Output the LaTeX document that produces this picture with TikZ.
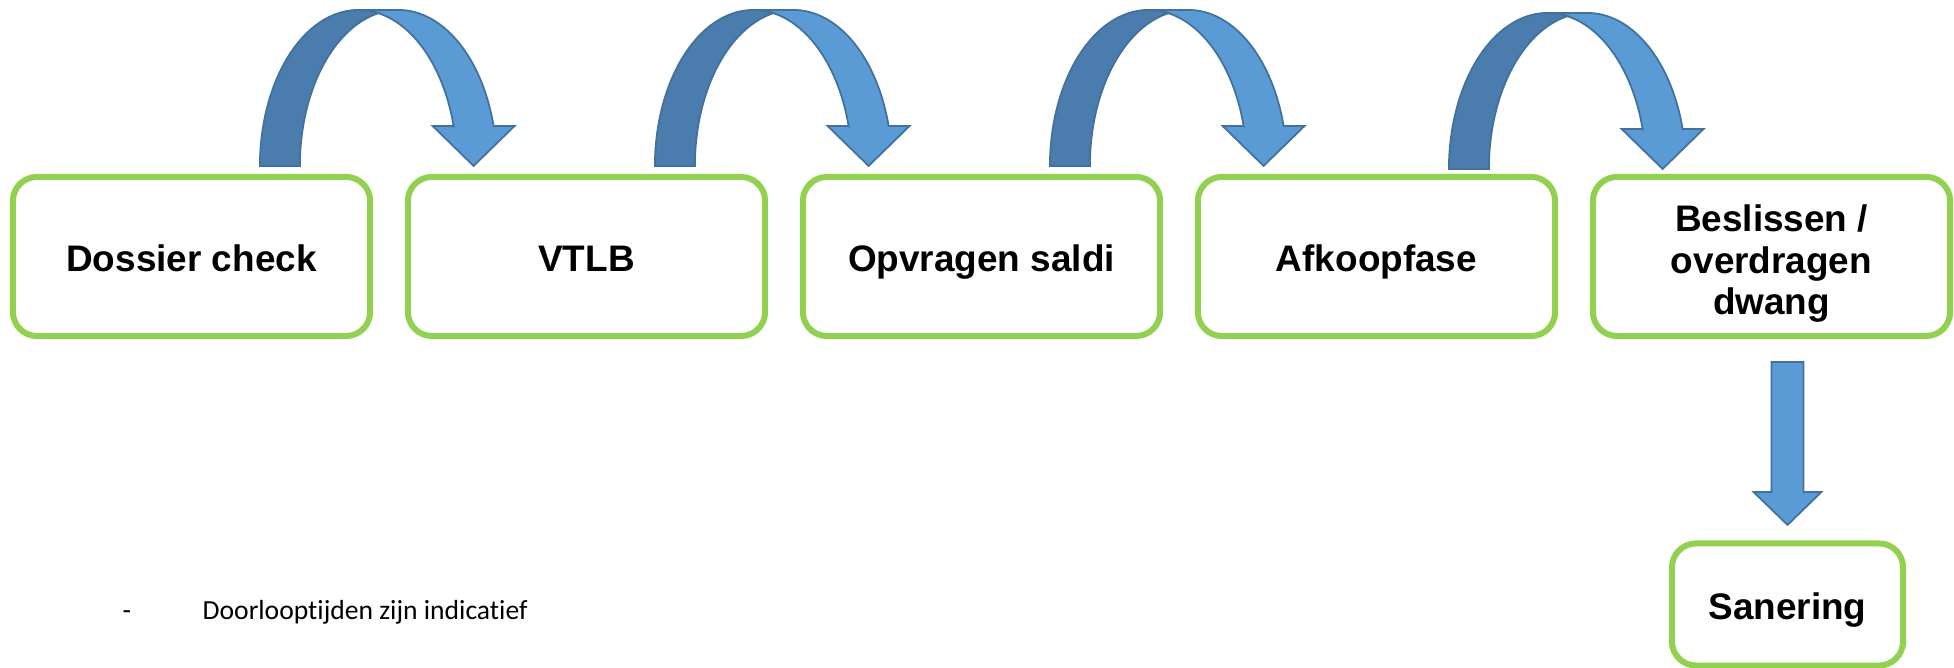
\documentclass[tikz,border=0pt]{standalone}
\usepackage{fontspec}
\setmainfont{Liberation Sans}
\newfontfamily\notefont[Ligatures=NoCommon]{Carlito}
\usetikzlibrary{calc}

\definecolor{boxgreen}{HTML}{92D050}
\definecolor{arrowfront}{HTML}{5B9BD5}
\definecolor{arrowback}{HTML}{4A7CAD}
\definecolor{arrowline}{HTML}{41719C}

% Curved "jump" arrow from the top of one step box to the next one.
% #1: shift of the arrow, #2: name of the source box.
\newcommand\jumparrow[2][(0,0)]{%
  \begin{scope}[shift={(#2.north west)}, shift={(247,11)}, shift={#1}]
    % front face with the arrow head
    \filldraw[arrowpart, fill=arrowfront]
      (213.7,0) -- (172.7,40) -- (193.7,40)
      -- plot[domain=14.857:90, samples=40, variable=\t] ({98.5+98.5*cos(\t)},{156*sin(\t)})
      -- (138.5,156)
      -- plot[domain=90:14.857, samples=40, variable=\t] ({138.5+98.5*cos(\t)},{156*sin(\t)})
      -- (254.7,40) -- cycle;
    % back face (left leg)
    \filldraw[arrowpart, fill=arrowback]
      (0,0)
      -- plot[domain=180:78.28, samples=50, variable=\t] ({98.5+98.5*cos(\t)},{156*sin(\t)})
      -- plot[domain=101.72:180, samples=50, variable=\t] ({138.5+98.5*cos(\t)},{156*sin(\t)})
      -- cycle;
  \end{scope}}

\begin{document}
\begin{tikzpicture}[x=0.01cm, y=0.01cm,
  stepframe/.style={draw=boxgreen, line width=0.06cm, rounded corners=0.24cm,
    fill=white, minimum width=3.57cm, minimum height=1.59cm,
    outer sep=0pt, inner sep=0pt, align=center,
    font=\fontsize{10.5}{11.8}\selectfont\bfseries},
  stepbox/.style={stepframe, text height=0.9em, text depth=0.062em},
  arrowpart/.style={draw=arrowline, line width=0.5pt, line join=miter},
  notetext/.style={anchor=base west, inner sep=0pt,
    font=\notefont\fontsize{7.85}{9.4}\selectfont}]

\path[use as bounding box] (0,0) rectangle (1954,668);

% process steps
\node[stepbox] (b1) at (191.5,411.5) {Dossier check};
\node[stepbox] (b2) at (586.5,411.5) {VTLB};
\node[stepbox] (b3) at (981.5,411.5) {Opvragen saldi};
\node[stepbox] (b4) at (1376.5,411.5) {Afkoopfase};
\node[stepframe] (b5) at (1771.5,411.5) {\rule{0pt}{0.418cm}Beslissen /\\overdragen\\dwang};
\node[stepbox, minimum width=2.31cm, minimum height=1.22cm] (san) at (1787.5,63.5) {Sanering};

% curved arrows between the steps
\jumparrow{b1}
\jumparrow{b2}
\jumparrow{b3}
\jumparrow[(4,-3)]{b4}

% straight arrow down to the last step
\filldraw[arrowpart, fill=arrowfront]
  ($(san.north |- b5.south)+(-16,-26)$) -- ($(san.north |- b5.south)+(16,-26)$)
  -- ($(san.north)+(16,51.5)$) -- ($(san.north)+(34,51.5)$)
  -- ($(san.north)+(0,18.5)$)
  -- ($(san.north)+(-34,51.5)$) -- ($(san.north)+(-16,51.5)$) -- cycle;

% footnote
\node[notetext] (dash) at (122,48) {-};
\node[notetext] (note) at (202,48) {Doorlooptijden zijn indicatief};
\end{tikzpicture}
\end{document}
